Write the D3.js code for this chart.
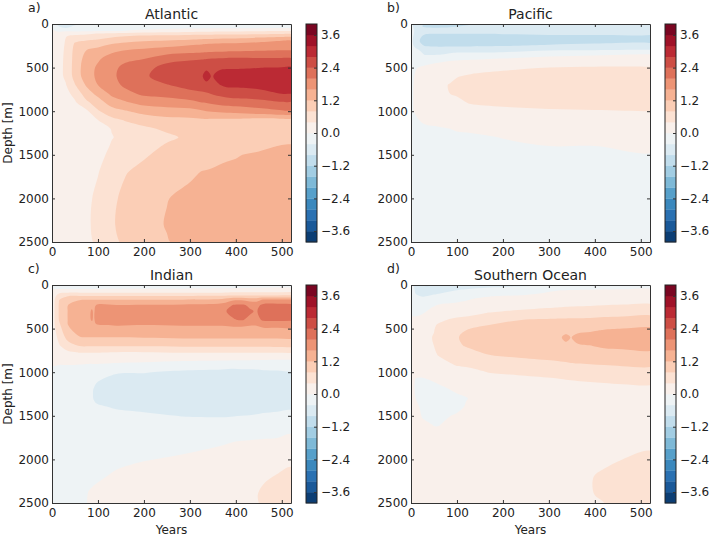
<!DOCTYPE html>
<html><head><meta charset="utf-8">
<style>html,body{margin:0;background:#fff}svg{display:block}text{font-family:"DejaVu Sans",sans-serif;fill:#222}</style>
<script src="https://cdn.jsdelivr.net/npm/d3@7"></script></head><body><svg id="c" width="709" height="536"></svg>
<script>
// Contour levels and colours
const levels = [-4,-3.6,-3.2,-2.8,-2.4,-2,-1.6,-1.2,-0.8,-0.4,0,0.4,0.8,1.2,1.6,2,2.4,2.8,3.2,3.6,4];
const cbarTicks = [-3.6,-2.4,-1.2,0,1.2,2.4,3.6];
const xTicks = [0,100,200,300,400,500];
const yTicks = [0,500,1000,1500,2000,2500];
const rdbu = ["#053061","#2166ac","#4393c3","#92c5de","#d1e5f0","#f7f7f7","#fddbc7","#f4a582","#d6604d","#b2182b","#67001f"];

// Atlantic: each inner array is the depth profile at one year
const atlanticYears = [0,15,30,50,75,100,130,160,200,250,300,326,336,348,363,380,400,450,500,520];
const atlanticDepths = [0,40,80,110,140,180,230,300,400,500,600,700,800,900,1000,1100,1200,1300,1400,1500,1700,2000,2300,2500];
const atlanticValues = [
[-.2,-.05,.05,.1,.1,.1,.1,.12,.15,.15,.15,.15,.12,.1,.1,.1,.1,.1,.1,.1,.1,.1,.1,.1],
[-.5,-.35,-.05,.1,.15,.2,.22,.28,.3,.3,.3,.27,.22,.18,.15,.12,.1,.1,.1,.1,.1,.1,.1,.1],
[-.5,-.45,-.02,.2,.38,.42,.44,.45,.46,.47,.46,.38,.28,.22,.18,.15,.12,.12,.12,.12,.12,.12,.12,.12],
[-.45,-.3,-.05,.25,.52,.7,.85,.92,.95,.97,.95,.78,.52,.35,.28,.2,.15,.14,.13,.13,.13,.13,.13,.13],
[-.4,-.2,-.05,.3,.6,.76,.98,1.2,1.35,1.42,1.42,1.25,1,.72,.32,.2,.15,.14,.13,.13,.22,.3,.33,.3],
[-.35,-.2,-.02,.42,.6,.82,1.08,1.3,1.55,1.66,1.68,1.6,1.32,1,.76,.4,.2,.2,.2,.22,.38,.5,.52,.48],
[-.35,-.2,0,.48,.72,.95,1.2,1.5,1.78,1.9,1.92,1.85,1.68,1.4,1.02,.7,.42,.38,.44,.55,.65,.72,.75,.7],
[-.3,-.2,.02,.52,.8,1.05,1.28,1.6,1.92,2.1,2.15,2.08,1.88,1.55,1.17,.83,.62,.52,.55,.65,.78,.9,.95,.88],
[-.3,-.15,.1,.6,.87,1.12,1.35,1.68,2,2.25,2.33,2.27,2.08,1.75,1.33,.98,.72,.62,.64,.75,.92,1.03,1.08,1],
[-.25,-.15,.2,.62,.9,1.15,1.45,1.75,2.25,2.55,2.62,2.38,2.13,1.83,1.4,1.1,.87,.72,.85,.93,1.05,1.19,1.22,1.18],
[-.25,-.12,.25,.65,.95,1.2,1.55,1.82,2.35,2.62,2.72,2.55,2.27,1.9,1.45,1.12,.93,.88,.95,1.03,1.15,1.28,1.33,1.32],
[-.25,-.1,.28,.67,.95,1.24,1.58,1.87,2.38,2.66,2.77,2.6,2.33,2,1.55,1.14,.93,.9,.96,1.06,1.21,1.31,1.37,1.37],
[-.25,-.1,.3,.68,.95,1.25,1.6,1.88,2.4,2.74,2.92,2.72,2.35,2.02,1.6,1.15,.93,.9,.97,1.07,1.22,1.32,1.38,1.38],
[-.24,-.1,.3,.68,.97,1.27,1.62,1.89,2.42,2.7,2.77,2.68,2.42,2.08,1.63,1.14,.94,.91,.99,1.1,1.23,1.33,1.39,1.39],
[-.23,-.1,.31,.69,.98,1.29,1.64,1.9,2.44,2.74,2.92,2.78,2.5,2.13,1.67,1.13,.94,.91,1.01,1.13,1.25,1.34,1.4,1.4],
[-.22,-.1,.32,.7,.99,1.31,1.66,1.92,2.46,2.77,2.95,2.88,2.56,2.18,1.7,1.12,.95,.92,1.03,1.16,1.26,1.35,1.41,1.41],
[-.22,-.1,.32,.7,1,1.32,1.67,1.93,2.47,2.76,3,2.88,2.6,2.22,1.72,1.12,.95,.92,1.05,1.18,1.27,1.35,1.42,1.42],
[-.2,-.08,.35,.72,1.05,1.42,1.72,1.97,2.45,2.79,3.02,2.94,2.65,2.27,1.85,1.05,.97,.98,1.12,1.25,1.3,1.38,1.45,1.45],
[-.2,-.08,.38,.75,1.1,1.55,1.75,2,2.45,2.82,3.1,3.1,2.8,2.37,1.95,1.08,1,1.05,1.22,1.3,1.35,1.4,1.48,1.48],
[-.2,-.08,.38,.76,1.12,1.57,1.76,2,2.45,2.85,3.1,3.12,2.8,2.37,1.97,1.08,1,1.05,1.24,1.3,1.36,1.42,1.48,1.5]
];

// Pacific
const pacificYears = [0,10,30,60,85,100,130,200,300,400,520];
const pacificDepths = [0,30,60,100,150,200,250,300,350,400,500,600,700,800,900,1000,1100,1200,1300,1400,1500,1700,2000,2500];
const pacificValues = [
[-.25,-.2,-.2,-.2,-.22,-.25,-.25,-.2,-.15,-.12,-.1,-.08,-.06,-.05,-.04,-.03,-.05,-.08,-.12,-.15,-.18,-.2,-.2,-.2],
[-.6,-.65,-.5,-.5,-.6,-.65,-.5,-.3,-.2,-.12,-.02,.03,.05,.05,.04,.02,-.03,-.08,-.12,-.15,-.18,-.2,-.2,-.2],
[-.85,-.85,-.65,-.72,-.92,-.98,-.82,-.55,-.42,-.18,.06,.17,.22,.22,.2,.15,.05,-.05,-.12,-.15,-.18,-.2,-.2,-.2],
[-.9,-.9,-.65,-.75,-.95,-1.02,-.86,-.55,-.42,-.12,.15,.3,.36,.35,.3,.2,.1,-.03,-.1,-.14,-.17,-.2,-.2,-.2],
[-.9,-.85,-.65,-.75,-.95,-1.02,-.86,-.53,-.35,-.06,.2,.36,.41,.4,.32,.22,.12,0,-.08,-.13,-.16,-.2,-.2,-.2],
[-.9,-.8,-.65,-.75,-.95,-1.02,-.86,-.52,-.3,-.05,.22,.38,.5,.43,.33,.24,.13,.03,-.06,-.12,-.16,-.2,-.2,-.2],
[-.82,-.75,-.62,-.75,-.95,-1,-.85,-.52,-.3,-.03,.25,.45,.55,.55,.43,.27,.15,.05,-.05,-.1,-.15,-.2,-.2,-.2],
[-.72,-.7,-.6,-.72,-.95,-1,-.82,-.5,-.28,.02,.34,.5,.6,.6,.48,.32,.18,.09,.01,-.05,-.12,-.18,-.2,-.2],
[-.55,-.55,-.5,-.68,-.92,-.95,-.75,-.42,-.1,.12,.4,.55,.65,.65,.55,.35,.22,.14,.07,0,-.07,-.15,-.2,-.2],
[-.5,-.5,-.48,-.68,-.9,-.9,-.7,-.4,-.05,.16,.43,.6,.68,.68,.58,.37,.25,.18,.08,0,-.05,-.13,-.2,-.2],
[-.5,-.5,-.48,-.7,-.9,-.88,-.65,-.38,.03,.2,.42,.6,.7,.7,.6,.4,.28,.2,.12,.05,-.01,-.1,-.18,-.2]
];

// Indian
const indianYears = [0,6,15,35,60,80,87,91,96,140,200,285,370,395,412,430,445,460,490,520];
const indianDepths = [0,30,60,90,125,170,230,300,400,460,600,700,770,850,930,1000,1100,1200,1300,1400,1500,1600,1800,2000,2200,2400,2500];
const indianValues = [
[-.1,-.05,.05,.1,.15,.15,.17,.18,.18,.15,.12,.1,.08,.06,0,-.05,-.1,-.12,-.14,-.15,-.15,-.15,-.15,-.15,-.15,-.15,-.15],
[-.2,-.1,.1,.2,.3,.4,.42,.42,.42,.4,.28,.2,.13,.08,0,-.1,-.13,-.15,-.15,-.15,-.15,-.15,-.15,-.15,-.15,-.15,-.15],
[-.35,-.15,.15,.35,.62,.78,.82,.82,.8,.72,.5,.35,.22,.1,-.02,-.18,-.2,-.2,-.2,-.2,-.2,-.2,-.2,-.2,-.18,-.18,-.18],
[-.4,-.2,.15,.42,.78,1.1,1.2,1.22,1.22,1.2,.95,.62,.35,.12,-.02,-.22,-.25,-.27,-.28,-.27,-.26,-.25,-.24,-.22,-.2,-.18,-.18],
[-.4,-.2,.15,.42,.8,1.18,1.42,1.5,1.5,1.45,1.18,.8,.42,.13,-.04,-.25,-.3,-.32,-.32,-.3,-.28,-.27,-.25,-.22,-.18,-.15,-.15],
[-.38,-.15,.15,.42,.8,1.2,1.5,1.55,1.56,1.5,1.2,.82,.42,.13,-.06,-.28,-.33,-.36,-.36,-.33,-.3,-.27,-.22,-.16,-.08,.02,.03],
[-.38,-.15,.15,.42,.8,1.2,1.54,1.63,1.62,1.52,1.2,.82,.42,.13,-.06,-.3,-.35,-.38,-.38,-.35,-.31,-.28,-.22,-.15,-.06,.04,.05],
[-.38,-.15,.15,.42,.8,1.2,1.53,1.56,1.56,1.53,1.2,.82,.42,.13,-.06,-.31,-.36,-.41,-.41,-.36,-.31,-.28,-.22,-.15,-.05,.05,.06],
[-.38,-.14,.15,.42,.8,1.2,1.6,1.68,1.68,1.58,1.2,.82,.42,.13,-.06,-.32,-.38,-.45,-.44,-.37,-.32,-.28,-.21,-.14,-.04,.06,.07],
[-.35,-.1,.15,.42,.8,1.2,1.6,1.8,1.82,1.62,1.2,.82,.4,.12,-.1,-.37,-.52,-.6,-.57,-.42,-.34,-.28,-.15,-.06,.04,.09,.1],
[-.35,-.1,.15,.42,.8,1.2,1.62,1.85,1.88,1.6,1.22,.82,.4,.1,-.12,-.38,-.55,-.65,-.62,-.47,-.35,-.27,-.14,-.01,.08,.13,.15],
[-.3,-.1,.15,.42,.8,1.22,1.65,1.9,1.9,1.62,1.25,.85,.43,.08,-.2,-.48,-.62,-.7,-.68,-.55,-.41,-.3,-.07,.03,.12,.18,.2],
[-.25,-.05,.15,.42,.82,1.3,1.75,1.95,1.93,1.62,1.25,.85,.43,.07,-.28,-.5,-.62,-.7,-.68,-.57,-.42,-.3,-.02,.08,.17,.24,.25],
[-.22,-.05,.18,.45,.85,1.55,2.02,2.08,1.98,1.65,1.25,.85,.43,.06,-.32,-.5,-.62,-.68,-.67,-.55,-.41,-.28,0,.1,.2,.28,.28],
[-.2,-.03,.18,.45,.85,1.55,2.05,2.1,2.02,1.65,1.25,.85,.43,.06,-.32,-.48,-.6,-.67,-.66,-.53,-.4,-.27,.02,.12,.23,.32,.32],
[-.2,-.03,.18,.45,.85,1.45,1.95,2.04,1.95,1.62,1.25,.85,.43,.06,-.32,-.47,-.6,-.66,-.64,-.52,-.39,-.26,.03,.14,.26,.36,.35],
[-.18,-.02,.2,.45,.85,1.45,1.88,1.97,1.9,1.62,1.25,.85,.43,.05,-.32,-.46,-.58,-.65,-.63,-.5,-.38,-.25,.04,.16,.28,.38,.37],
[-.18,-.02,.2,.45,.85,1.65,2.1,2.2,2.05,1.7,1.25,.85,.43,.04,-.3,-.45,-.57,-.64,-.62,-.49,-.36,-.24,.05,.18,.34,.48,.46],
[-.15,0,.2,.45,.85,1.65,2.12,2.25,2.08,1.7,1.25,.87,.44,.03,-.3,-.44,-.56,-.62,-.6,-.47,-.34,-.2,.06,.25,.43,.53,.5],
[-.12,0,.22,.48,.88,1.65,2.1,2.2,2.05,1.72,1.27,.88,.45,.03,-.28,-.42,-.54,-.6,-.58,-.45,-.3,-.08,.07,.35,.47,.55,.52]
];

// Southern Ocean
const southernYears = [0,10,25,50,60,100,120,170,240,310,326,337,348,362,390,420,460,520];
const southernDepths = [0,30,60,100,150,200,260,320,400,460,520,600,700,800,900,1000,1100,1200,1300,1400,1500,1600,1800,2000,2200,2400,2500];
const southernValues = [
[-.25,-.2,-.2,-.15,-.12,-.1,-.08,-.03,.03,.07,.1,.12,.12,.12,.12,.1,.1,.1,.1,.1,.1,.1,.1,.1,.1,.1,.1],
[-.55,-.5,-.45,-.4,-.3,-.2,-.15,-.05,.05,.1,.13,.16,.16,.15,.12,.05,-.02,-.03,0,.06,.1,.1,.1,.1,.1,.1,.1],
[-.8,-.7,-.6,-.5,-.35,-.2,-.1,-.02,.12,.18,.25,.3,.3,.25,.18,.07,-.04,-.08,-.08,-.05,-.02,.05,.1,.1,.1,.1,.1],
[-.85,-.7,-.55,-.45,-.2,-.1,.03,.12,.3,.38,.39,.42,.4,.35,.25,.12,.01,-.07,-.09,-.08,-.05,-.01,.1,.12,.12,.12,.12],
[-.8,-.65,-.5,-.4,-.15,-.05,.08,.2,.36,.42,.5,.52,.5,.42,.28,.15,.03,-.05,-.09,-.09,-.06,-.01,.1,.12,.12,.12,.12],
[-.65,-.55,-.4,-.3,-.1,0,.15,.3,.45,.58,.7,.78,.75,.6,.45,.28,.12,.03,-.04,-.06,.03,.08,.12,.12,.12,.12,.12],
[-.6,-.5,-.35,-.2,-.05,.03,.2,.32,.48,.65,.8,.87,.82,.65,.47,.3,.15,.05,-.01,.02,.06,.1,.12,.12,.12,.12,.12],
[-.55,-.4,-.25,-.1,.05,.15,.28,.41,.58,.8,.92,.98,.92,.8,.58,.41,.25,.15,.12,.12,.12,.12,.12,.12,.12,.12,.12],
[-.45,-.35,-.15,-.05,.1,.2,.35,.48,.8,.92,1,1.08,1.03,.87,.68,.46,.3,.2,.15,.13,.13,.13,.13,.14,.15,.15,.15],
[-.35,-.2,-.02,.05,.15,.28,.4,.55,.85,.98,1.08,1.15,1.08,.92,.74,.5,.35,.22,.17,.15,.15,.15,.15,.17,.2,.2,.2],
[-.33,-.18,0,.06,.16,.28,.41,.56,.86,.99,1.09,1.18,1.09,.94,.76,.51,.37,.23,.17,.15,.15,.15,.16,.19,.25,.25,.22],
[-.32,-.17,0,.06,.16,.29,.42,.57,.86,.99,1.1,1.28,1.12,.95,.77,.52,.38,.24,.17,.15,.15,.15,.17,.21,.29,.28,.24],
[-.32,-.17,.01,.06,.17,.29,.43,.57,.87,1,1.12,1.19,1.12,.96,.79,.53,.39,.24,.18,.16,.16,.16,.18,.23,.32,.32,.26],
[-.31,-.16,.02,.07,.17,.29,.44,.58,.87,1.01,1.14,1.27,1.17,.98,.8,.54,.4,.24,.18,.16,.16,.16,.19,.25,.35,.35,.28],
[-.3,-.15,.03,.08,.18,.3,.45,.6,.88,1.02,1.16,1.32,1.19,1,.82,.55,.42,.25,.19,.17,.17,.17,.2,.27,.38,.38,.3],
[-.28,-.12,.04,.09,.19,.32,.47,.62,.92,1.06,1.22,1.36,1.25,1.05,.85,.58,.44,.27,.2,.18,.18,.19,.24,.33,.46,.45,.4],
[-.25,-.1,.05,.1,.2,.33,.5,.65,.95,1.1,1.25,1.38,1.26,1.1,.88,.62,.46,.3,.22,.2,.2,.22,.3,.4,.5,.52,.5],
[-.2,-.05,.08,.15,.25,.36,.52,.7,1,1.15,1.28,1.4,1.3,1.12,.9,.66,.48,.32,.25,.22,.22,.25,.35,.45,.55,.58,.56]
];

const panels = [
 {name:"Atlantic",letter:"a)",years:atlanticYears,depths:atlanticDepths,values:atlanticValues,left:52,top:24,yLabel:true,xLabel:false},
 {name:"Pacific",letter:"b)",years:pacificYears,depths:pacificDepths,values:pacificValues,left:411,top:24,yLabel:false,xLabel:false},
 {name:"Indian",letter:"c)",years:indianYears,depths:indianDepths,values:indianValues,left:52,top:285,yLabel:true,xLabel:true},
 {name:"Southern Ocean",letter:"d)",years:southernYears,depths:southernDepths,values:southernValues,left:411,top:285,yLabel:false,xLabel:true}
];

const W = 239, H = 218;
const colorScale = d3.scaleLinear().domain(d3.range(11).map(i=>i/10)).range(rdbu).interpolate(d3.interpolateRgb);
const bandColor = lo => colorScale(((lo+0.2)+4)/8);
const fmt = v => (v<0?"\u2212":"")+Math.abs(v).toFixed(1);
const svg = d3.select("#c");
const smoothLine = d3.line().curve(d3.curveCatmullRomClosed.alpha(0.5));

panels.forEach((p,k)=>{
  const g = svg.append("g").attr("transform",`translate(${p.left},${p.top})`);
  const x = d3.scaleLinear().domain([0,520]).range([0,W]);
  const y = d3.scaleLinear().domain([0,2500]).range([0,H]);
  const nx = p.years.length, ny = p.depths.length;
  const flat = [];
  for(let j=0;j<ny;j++) for(let i=0;i<nx;i++) flat.push(p.values[i][j]);
  // grid index space -> data space (grids are not evenly spaced); the outer half cell falls outside the clipped frame
  const ix = d3.scaleLinear().domain([0,...p.years.map((_,i)=>i+0.5),nx]).range([-30,...p.years,550]);
  const iy = d3.scaleLinear().domain([0,...p.depths.map((_,i)=>i+0.5),ny]).range([-100,...p.depths,2600]);
  const ringPath = ring => {
    const pts = [];
    ring.slice(0,-1).forEach(c=>{
      const q=[x(ix(c[0])),y(iy(c[1]))], l=pts[pts.length-1];
      if(!l||Math.hypot(q[0]-l[0],q[1]-l[1])>0.05) pts.push(q);
    });
    return smoothLine(pts);
  };
  const bands = levels.slice(0,-1);
  const conts = d3.contours().size([nx,ny]).thresholds(bands)(flat);
  svg.append("defs").append("clipPath").attr("id","clip"+k).append("rect").attr("width",W).attr("height",H);
  g.append("g").attr("clip-path",`url(#clip${k})`).append("g").style("filter","blur(0.45px)")
    .selectAll("path.band").data(conts).join("path").attr("class","band")
    .attr("d",d=>d.coordinates.flatMap(poly=>poly.map(ringPath)).join(""))
    .attr("fill-rule","evenodd").attr("fill",d=>bandColor(d.value));
  // axes with inward ticks on all four sides
  const mk=(ax,t)=>g.append("g").attr("transform",t).call(ax)
    .call(s=>s.selectAll("text").attr("font-size",12).attr("font-family","DejaVu Sans").attr("fill","#222"))
    .call(s=>s.selectAll("line,path").attr("stroke","#333").attr("stroke-width",1));
  mk(d3.axisBottom(x).tickValues(xTicks).tickSizeInner(-3).tickSizeOuter(0).tickPadding(5).tickFormat(d3.format("d")),`translate(0,${H})`);
  mk(d3.axisTop(x).tickValues(xTicks).tickSizeInner(-3).tickSizeOuter(0).tickFormat(""),"translate(0,0)");
  mk(d3.axisLeft(y).tickValues(yTicks).tickSizeInner(-3).tickSizeOuter(0).tickPadding(3).tickFormat(d3.format("d")),"translate(0,0)");
  mk(d3.axisRight(y).tickValues(yTicks).tickSizeInner(-3).tickSizeOuter(0).tickFormat(""),`translate(${W},0)`);
  g.append("text").attr("x",W/2).attr("y",-5).attr("text-anchor","middle").attr("font-size",14).text(p.name);
  g.append("text").attr("x",-24).attr("y",-12).attr("font-size",12.5).text(p.letter);
  if(p.xLabel) g.append("text").attr("x",W/2).attr("y",H+31).attr("text-anchor","middle").attr("font-size",12).text("Years");
  if(p.yLabel) g.append("text").attr("transform",`translate(${-40},${H/2}) rotate(-90)`).attr("text-anchor","middle").attr("font-size",12).text("Depth [m]");
  // colour bar
  const cb = g.append("g").attr("transform",`translate(${W+15},0)`);
  const cy = d3.scaleLinear().domain([4,-4]).range([0,H]);
  cb.selectAll("rect").data(bands).join("rect").attr("x",0).attr("width",11)
    .attr("y",d=>cy(d+0.4)).attr("height",d=>cy(d)-cy(d+0.4)+0.3).attr("fill",bandColor);
  cb.append("rect").attr("width",11).attr("height",H).attr("fill","none").attr("stroke","#222");
  cb.append("g").attr("transform","translate(11,0)")
    .call(d3.axisRight(cy).tickValues(cbarTicks).tickSizeInner(-3).tickSizeOuter(0).tickPadding(4).tickFormat(fmt))
    .call(s=>s.select(".domain").remove())
    .call(s=>s.selectAll("line").attr("stroke","#333"))
    .call(s=>s.selectAll("text").attr("font-size",12).attr("font-family","DejaVu Sans").attr("fill","#222"));
});
</script></body></html>
